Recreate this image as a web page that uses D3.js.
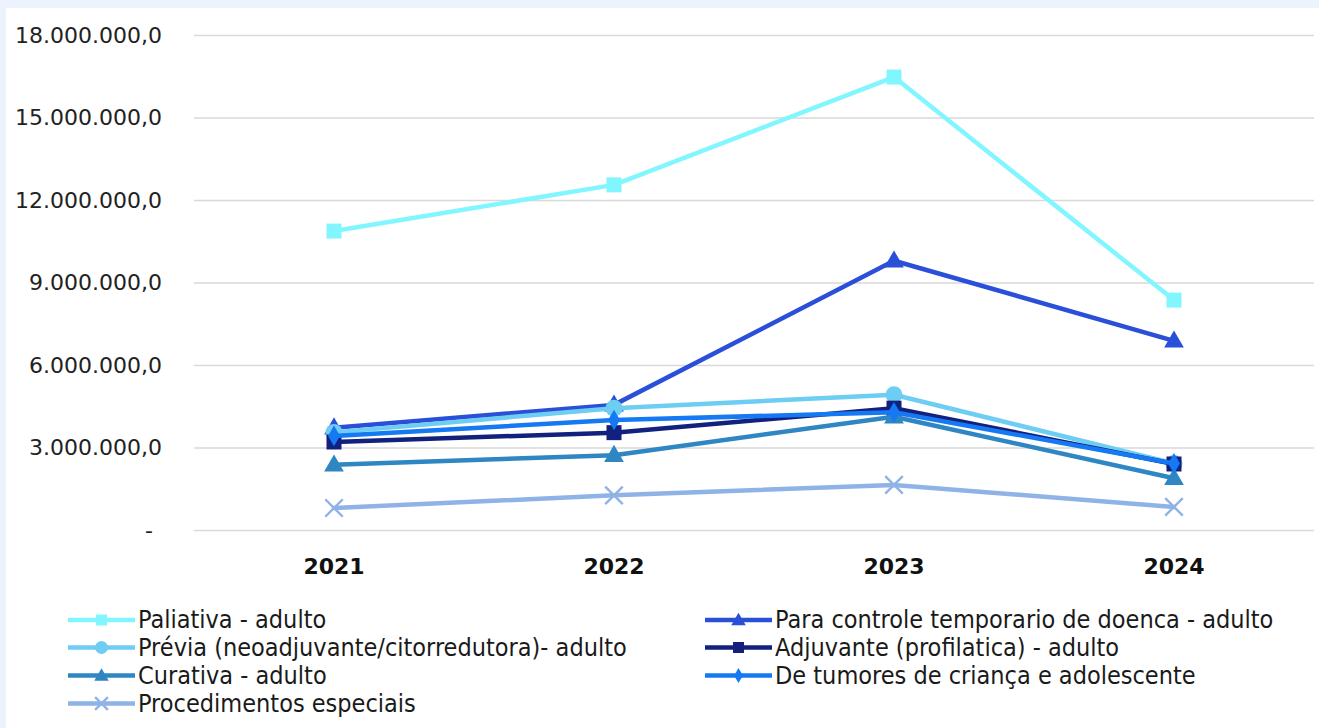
<!DOCTYPE html>
<html>
<head>
<meta charset="utf-8">
<script src="https://cdn.jsdelivr.net/npm/d3@7"></script>
<style>
  html, body { margin: 0; padding: 0; background: #edf3fc; }
  svg { display: block; }
</style>
</head>
<body>
<svg id="chart" width="1319" height="728"></svg>
<script>
// Anos (categorias do eixo X)
const years = ["2021", "2022", "2023", "2024"];

// Valores por finalidade do tratamento
const paliativa     = [10870000, 12550000, 16470000, 8360000];
const paraControle  = [3720000, 4550000, 9790000, 6880000];
const previa        = [3550000, 4430000, 4920000, 2420000];
const adjuvante     = [3200000, 3540000, 4430000, 2400000];
const curativa      = [2370000, 2720000, 4120000, 1880000];
const deTumores     = [3420000, 4000000, 4280000, 2420000];
const procedimentos = [800000, 1260000, 1640000, 840000];

// Marcas do eixo Y
const yTicks = [0, 3000000, 6000000, 9000000, 12000000, 15000000, 18000000];

const series = [
  { name: "Paliativa - adulto", values: paliativa, color: "#82f6ff", marker: "square" },
  { name: "Para controle temporario de doenca - adulto", values: paraControle, color: "#2a4fd9", marker: "triangle" },
  { name: "Prévia (neoadjuvante/citorredutora)- adulto", values: previa, color: "#6ecdf3", marker: "circle" },
  { name: "Adjuvante (profilatica) - adulto", values: adjuvante, color: "#12207e", marker: "square" },
  { name: "Curativa - adulto", values: curativa, color: "#2e86c3", marker: "triangle" },
  { name: "De tumores de criança e adolescente", values: deTumores, color: "#1479f2", marker: "diamond" },
  { name: "Procedimentos especiais", values: procedimentos, color: "#8fb3e6", marker: "cross" }
];

const svg = d3.select("#chart");
const W = 1319, H = 728;

// painel branco
svg.append("rect").attr("x", 6).attr("y", 8).attr("width", W - 6).attr("height", H - 8).attr("fill", "#ffffff");

const plot = { left: 194, right: 1314, top: 35, bottom: 530 };

const x = d3.scaleBand().domain(years).range([plot.left, plot.right]).padding(0);
const y = d3.scaleLinear().domain([0, 18000000]).range([plot.bottom, plot.top]);

const fmtNum = d3.formatLocale({ decimal: ",", thousands: ".", grouping: [3] }).format(",.1f");
const fmt = v => v === 0 ? "-" : fmtNum(v);

// linhas de grade + rótulos do eixo Y
const yAxis = d3.axisLeft(y).tickValues(yTicks).tickSize(-(plot.right - plot.left)).tickFormat(fmt).tickPadding(32);
const gy = svg.append("g").attr("transform", `translate(${plot.left},0)`).call(yAxis);
gy.select(".domain").remove();
gy.selectAll(".tick line").attr("stroke", "#d9d9d9").attr("stroke-width", 1.3);
gy.selectAll(".tick text")
  .attr("fill", "#222")
  .style("font-family", "'DejaVu Sans', Verdana, sans-serif")
  .style("font-size", "22px");
// o traço do zero fica recuado, como no formato contábil
gy.selectAll(".tick text").filter(d => d === 0).attr("dx", -9);

// rótulos do eixo X
const xAxis = d3.axisBottom(x).tickSize(0).tickPadding(28);
const gx = svg.append("g").attr("transform", `translate(0,${plot.bottom})`).call(xAxis);
gx.select(".domain").remove();
gx.selectAll(".tick text")
  .attr("fill", "#111")
  .style("font-family", "'DejaVu Sans', Verdana, sans-serif")
  .style("font-weight", "bold")
  .style("font-size", "22px");

const cx = d => x(d) + x.bandwidth() / 2;

function drawMarker(g, type, px, py, color, size) {
  const s = size;
  if (type === "square") {
    g.append("rect").attr("x", px - s / 2).attr("y", py - s / 2).attr("width", s).attr("height", s)
      .attr("fill", color);
  } else if (type === "circle") {
    g.append("circle").attr("cx", px).attr("cy", py).attr("r", s / 2 + 1).attr("fill", color);
  } else if (type === "triangle") {
    g.append("path").attr("d", d3.symbol(d3.symbolTriangle, s * s * 0.75)())
      .attr("transform", `translate(${px},${py + 1})`).attr("fill", color);
  } else if (type === "diamond") {
    g.append("path").attr("d", d3.symbol(d3.symbolDiamond, s * s * 0.55)())
      .attr("transform", `translate(${px},${py})`).attr("fill", color);
  } else if (type === "cross") {
    g.append("path").attr("d", d3.symbol(d3.symbolX, s * s * 0.9)())
      .attr("transform", `translate(${px},${py})`).attr("fill", "none")
      .attr("stroke", color).attr("stroke-width", 2.4);
  }
}

const line = d3.line().x((d, i) => cx(years[i])).y(d => y(d));

series.forEach(s => {
  const g = svg.append("g");
  g.append("path").datum(s.values).attr("d", line)
    .attr("fill", "none").attr("stroke", s.color).attr("stroke-width", 4.5)
    .attr("stroke-linejoin", "round").attr("stroke-linecap", "round");
  s.values.forEach((v, i) => drawMarker(g, s.marker, cx(years[i]), y(v), s.color, 15));
});

// legenda
const legendItems = [
  { s: series[0], col: 0, row: 0 },
  { s: series[2], col: 0, row: 1 },
  { s: series[4], col: 0, row: 2 },
  { s: series[6], col: 0, row: 3 },
  { s: series[1], col: 1, row: 0 },
  { s: series[3], col: 1, row: 1 },
  { s: series[5], col: 1, row: 2 }
];
const colX = [68, 705];
const rowY = [620, 647.5, 675.5, 703.5];

legendItems.forEach(it => {
  const g = svg.append("g");
  const lx = colX[it.col], ly = rowY[it.row];
  g.append("line").attr("x1", lx).attr("x2", lx + 67).attr("y1", ly).attr("y2", ly)
    .attr("stroke", it.s.color).attr("stroke-width", 4.5);
  drawMarker(g, it.s.marker, lx + 33.5, ly, it.s.color, 11);
  g.append("text").attr("x", lx + 70).attr("y", ly + 8)
    .attr("fill", "#1a1a1a")
    .style("font-family", "'DejaVu Sans Condensed', 'DejaVu Sans', sans-serif")
    .style("font-size", "25px")
    .text(it.s.name);
});
</script>
</body>
</html>
